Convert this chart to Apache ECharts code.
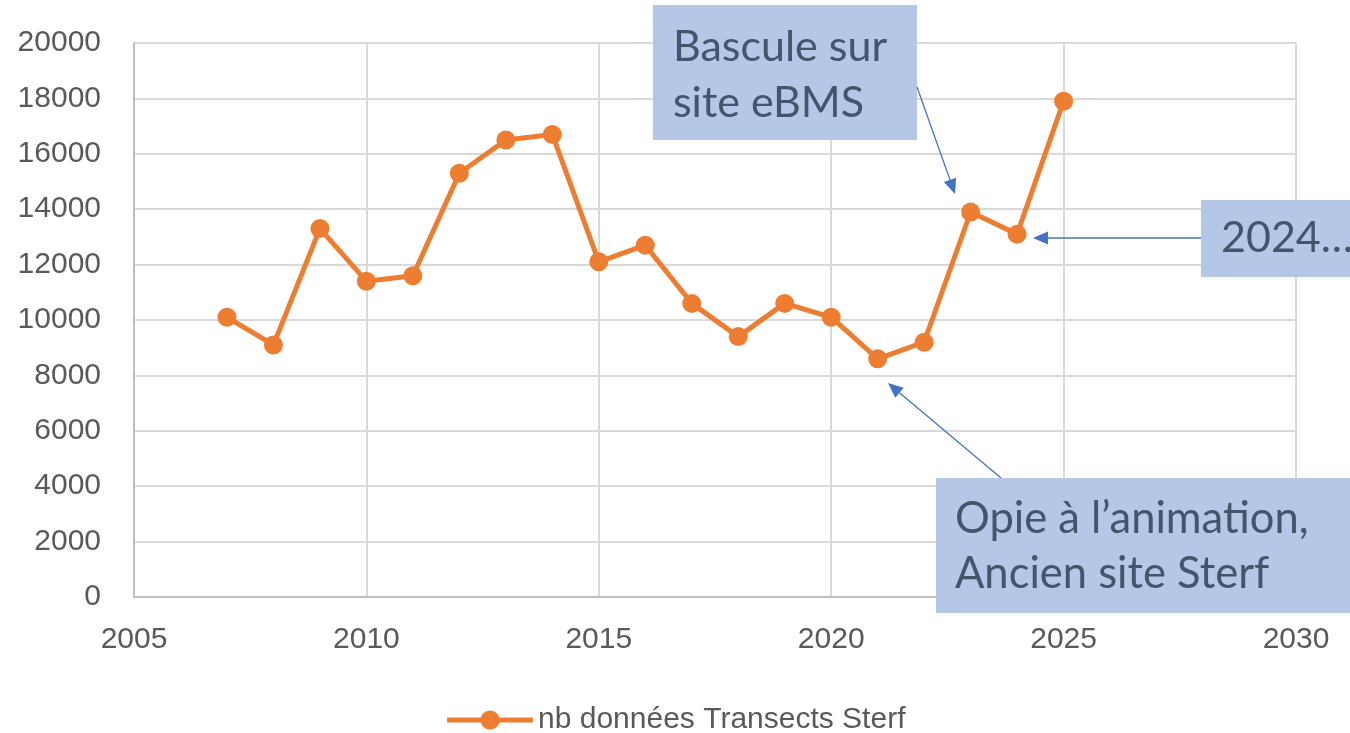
<!DOCTYPE html>
<html>
<head>
<meta charset="utf-8">
<title>nb données Transects Sterf</title>
<script src="https://cdn.jsdelivr.net/npm/echarts@6/dist/echarts.min.js"></script>
<style>
  html, body { margin: 0; padding: 0; background: #fff; }
  #chart { width: 1350px; height: 733px; }
</style>
</head>
<body>
<div id="chart"></div>
<script>
// Yearly number of transect records
const years = [2007, 2008, 2009, 2010, 2011, 2012, 2013, 2014, 2015, 2016,
               2017, 2018, 2019, 2020, 2021, 2022, 2023, 2024, 2025];
const counts = [10100, 9100, 13300, 11400, 11600, 15300, 16500, 16700, 12100, 12700,
                10600, 9400, 10600, 10100, 8600, 9200, 13900, 13100, 17900];
const seriesName = 'nb données Transects Sterf';

// Axis ranges
const xRange = { min: 2005, max: 2030, interval: 5 };
const yRange = { min: 0, max: 20000, interval: 2000 };

// Callout texts
const noteEbms = ['Bascule sur', 'site eBMS'];
const note2024 = ['2024…'];
const noteOpie = ['Opie à l\u2019animation,', 'Ancien site Sterf'];

const BOX_FILL = '#B4C7E7';
const BOX_TEXT = '#44546A';
const ARROW = '#4472C4';
const NOTE_FONT = 'Lato, "Open Sans", sans-serif';

function arrow(x1, y1, x2, y2) {
  const a = Math.atan2(y2 - y1, x2 - x1);
  const len = 15, half = 6.5;
  const bx = x2 - len * Math.cos(a), by = y2 - len * Math.sin(a);
  const px = -Math.sin(a) * half, py = Math.cos(a) * half;
  return [
    { type: 'line', z: 100, shape: { x1: x1, y1: y1, x2: bx, y2: by },
      style: { stroke: ARROW, lineWidth: 1.3 } },
    { type: 'polygon', z: 100,
      shape: { points: [[x2, y2], [bx + px, by + py], [bx - px, by - py]] },
      style: { fill: ARROW } }
  ];
}

function callout(x, y, w, h, lines, tx, ty, lh, size) {
  const els = [{ type: 'rect', z: 99, shape: { x: x, y: y, width: w, height: h },
                 style: { fill: BOX_FILL } }];
  lines.forEach(function (t, i) {
    els.push({ type: 'text', z: 101, x: tx, y: ty + i * lh,
      style: { text: t, fill: BOX_TEXT, font: size + 'px ' + NOTE_FONT,
               textAlign: 'left', textVerticalAlign: 'middle' } });
  });
  return els;
}

const chart = echarts.init(document.getElementById('chart'));

const axisText = { color: '#595959', fontSize: 30, fontFamily: '"Liberation Sans", Arial, sans-serif' };

chart.setOption({
  animation: false,
  backgroundColor: '#fff',
  grid: { left: 134, right: 54, top: 43, bottom: 136, containLabel: false },
  xAxis: {
    type: 'value', min: xRange.min, max: xRange.max, interval: xRange.interval,
    axisLine: { show: true, lineStyle: { color: '#BFBFBF', width: 2 } },
    axisTick: { show: false },
    axisLabel: Object.assign({ margin: 28, formatter: function (v) { return String(v); } }, axisText),
    splitLine: { show: true, lineStyle: { color: '#D9D9D9', width: 2 } }
  },
  yAxis: {
    type: 'value', min: yRange.min, max: yRange.max, interval: yRange.interval,
    axisLine: { show: true, lineStyle: { color: '#BFBFBF', width: 2 } },
    axisTick: { show: false },
    axisLabel: Object.assign({ margin: 33, formatter: function (v) { return String(v); } }, axisText),
    splitLine: { show: true, lineStyle: { color: '#D9D9D9', width: 2 } }
  },
  legend: {
    top: 700, left: 'center',
    itemWidth: 86, itemHeight: 24, itemGap: 10,
    lineStyle: { width: 5 },
    textStyle: { color: '#595959', fontSize: 30, fontFamily: '"Liberation Sans", Arial, sans-serif' },
    data: [seriesName]
  },
  series: [{
    name: seriesName, type: 'line',
    data: years.map(function (y, i) { return [y, counts[i]]; }),
    symbol: 'circle', symbolSize: 19,
    lineStyle: { color: '#ED7D31', width: 5 },
    itemStyle: { color: '#ED7D31' },
    z: 3
  }],
  graphic: [].concat(
    callout(653, 5, 264, 135, noteEbms, 673, 47, 56, 43),
    callout(1201, 200, 160, 77, note2024, 1221, 238, 0, 43),
    callout(936, 478, 420, 135, noteOpie, 955, 519, 55, 43.5),
    arrow(917, 87, 955, 194),
    arrow(1201, 238, 1033, 238),
    arrow(1001, 478, 888, 383)
  )
});
</script>
</body>
</html>
